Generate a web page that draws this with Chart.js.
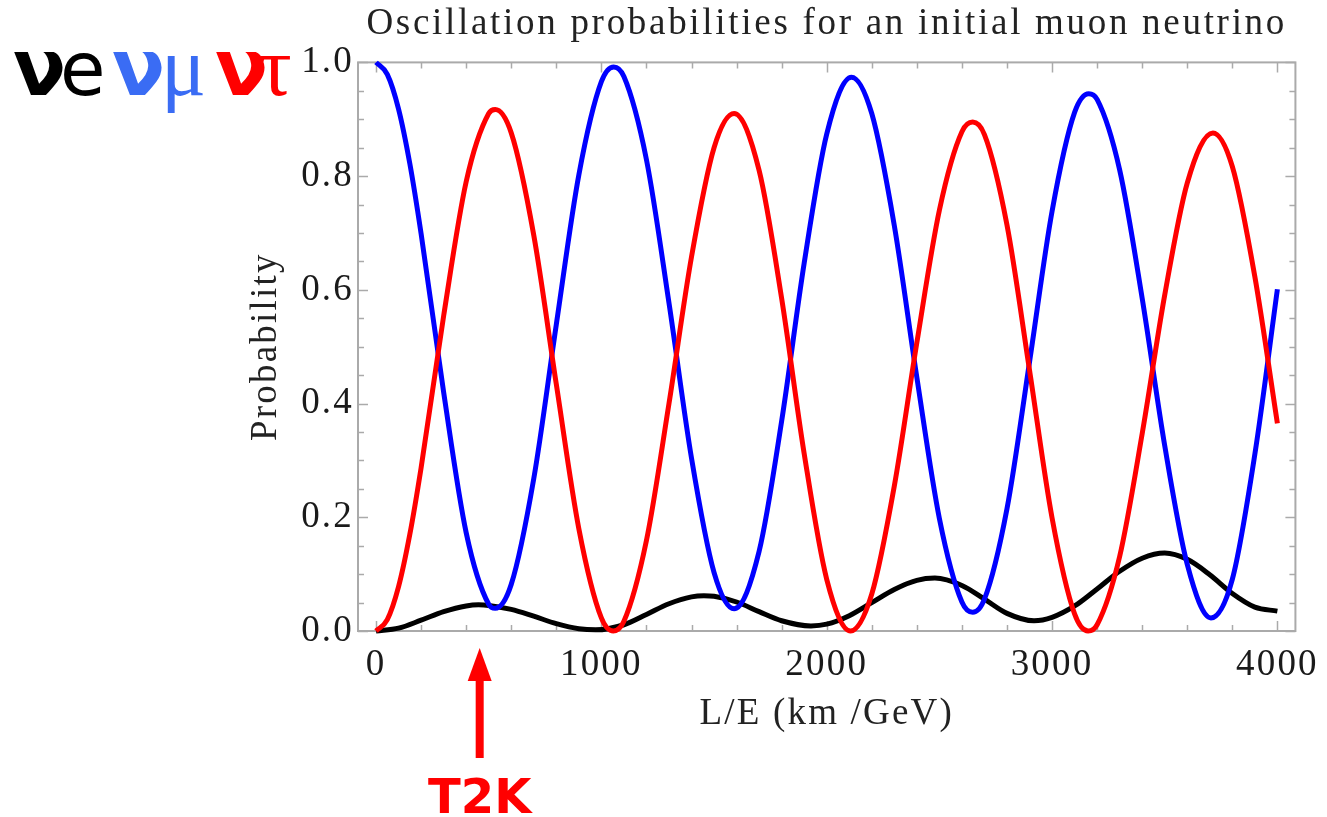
<!DOCTYPE html>
<html>
<head>
<meta charset="utf-8">
<script src="https://cdn.jsdelivr.net/npm/chart.js@4/dist/chart.umd.min.js"></script>
<style>
  html, body { margin: 0; padding: 0; background: #fff; }
  canvas { display: block; }
</style>
</head>
<body>
<canvas id="osc" width="1327" height="817"></canvas>
<script>
'use strict';

// L/E positions (km/GeV) and probabilities
const muonLE = [0, 50, 100, 150, 200, 300, 400, 500, 529, 600, 700, 800, 900, 1000, 1055, 1100, 1200, 1300, 1400, 1500,
  1589, 1700, 1800, 1900, 2000, 2110, 2200, 2300, 2400, 2500, 2600, 2648, 2700, 2800, 2900, 3000, 3100, 3163, 3200,
  3300, 3400, 3500, 3600, 3705, 3800, 3900, 4000];
const muonP = [1.000, 0.979, 0.918, 0.822, 0.699, 0.420, 0.173, 0.047, 0.040, 0.082, 0.268, 0.539, 0.802, 0.966, 0.992,
  0.975, 0.829, 0.577, 0.304, 0.103, 0.039, 0.140, 0.369, 0.647, 0.874, 0.974, 0.910, 0.713, 0.446, 0.198, 0.051,
  0.033, 0.056, 0.215, 0.473, 0.738, 0.912, 0.945, 0.935, 0.811, 0.585, 0.326, 0.117, 0.023, 0.091, 0.311, 0.601];

const tauLE = [0, 50, 100, 150, 200, 300, 400, 500, 529, 600, 700, 800, 900, 1000, 1053, 1100, 1200, 1300, 1400, 1500,
  1589, 1700, 1800, 1900, 2000, 2106, 2200, 2300, 2400, 2500, 2600, 2648, 2700, 2800, 2900, 3000, 3100, 3160, 3200,
  3300, 3400, 3500, 3600, 3714, 3800, 3900, 4000];
const tauP = [0.000, 0.020, 0.078, 0.170, 0.287, 0.554, 0.790, 0.910, 0.917, 0.876, 0.696, 0.434, 0.180, 0.023, 0.000,
  0.017, 0.159, 0.400, 0.658, 0.850, 0.910, 0.810, 0.585, 0.312, 0.091, 0.000, 0.065, 0.255, 0.507, 0.740, 0.878,
  0.895, 0.873, 0.714, 0.459, 0.199, 0.030, 0.000, 0.011, 0.131, 0.347, 0.591, 0.788, 0.876, 0.817, 0.623, 0.365];

const elecLE = [0, 100, 200, 300, 400, 455, 500, 600, 700, 800, 900, 975, 1100, 1200, 1300, 1400, 1455, 1500, 1600,
  1700, 1800, 1930, 2000, 2100, 2200, 2300, 2400, 2480, 2600, 2700, 2800, 2920, 3000, 3100, 3200, 3300, 3400, 3500,
  3600, 3700, 3800, 3900, 4000];
const elecP = [0.000, 0.005, 0.019, 0.034, 0.044, 0.046, 0.045, 0.038, 0.026, 0.013, 0.004, 0.002, 0.011, 0.029, 0.048,
  0.060, 0.062, 0.061, 0.051, 0.034, 0.018, 0.009, 0.012, 0.027, 0.050, 0.073, 0.089, 0.093, 0.080, 0.056, 0.031,
  0.018, 0.024, 0.044, 0.074, 0.105, 0.128, 0.137, 0.126, 0.099, 0.066, 0.042, 0.035];

const xTicks = [0, 1000, 2000, 3000, 4000];
const yTicks = [0, 0.2, 0.4, 0.6, 0.8, 1.0];
const t2kLE = 460;

function points(xs, ys) {
  return xs.map((v, i) => ({x: v, y: ys[i]}));
}

const serif = 'Liberation Serif';

// Mathematica-style frame with inward ticks, plus the annotations
const framePlugin = {
  id: 'frame',
  beforeDraw(chart) {
    // title is the only text drawn before the datasets
    chart.ctx.letterSpacing = '2.7px';
  },
  beforeDatasetsDraw(chart) {
    const {ctx, chartArea: a, scales: {x, y}} = chart;
    ctx.letterSpacing = '0px';
    ctx.save();
    ctx.strokeStyle = '#aaaaaa';
    ctx.lineWidth = 1.5;
    ctx.beginPath();
    for (let v = 0; v <= 4000; v += 200) {
      const px = Math.round(x.getPixelForValue(v)) + 0.5;
      const len = xTicks.includes(v) ? 10 : 6;
      ctx.moveTo(px, a.bottom); ctx.lineTo(px, a.bottom - len);
      ctx.moveTo(px, a.top); ctx.lineTo(px, a.top + len);
    }
    for (let k = 0; k <= 20; k++) {
      const py = Math.round(y.getPixelForValue(k * 0.05)) + 0.5;
      const len = k % 4 === 0 ? 10 : 6;
      ctx.moveTo(a.left, py); ctx.lineTo(a.left + len, py);
      ctx.moveTo(a.right, py); ctx.lineTo(a.right - len, py);
    }
    ctx.stroke();
    ctx.lineWidth = 2;
    ctx.strokeRect(a.left, a.top, a.right - a.left, a.bottom - a.top);
    ctx.restore();
  },
  afterDatasetsDraw(chart) {
    // axis labels and titles are drawn next (z = 1)
    chart.ctx.letterSpacing = '2.2px';
  },
  afterDraw(chart) {
    const {ctx, scales: {x}} = chart;
    ctx.letterSpacing = '0px';
    ctx.save();
    ctx.textBaseline = 'alphabetic';
    ctx.textAlign = 'left';
    const base = 95;
    const parts = [
      ['ν', 'bold 78px "DejaVu Sans"', '#000000', 13],
      ['e', '74px "DejaVu Sans"', '#000000', 60],
      ['ν', 'bold 78px "DejaVu Sans"', '#3a6cf4', 112],
      ['μ', '84px "Liberation Serif"', '#3a6cf4', 161],
      ['ν', 'bold 78px "DejaVu Sans"', '#ff0000', 215],
      ['τ', '84px "Liberation Serif"', '#ff0000', 258]
    ];
    parts.forEach(([t, f, c, px]) => {
      ctx.font = f;
      ctx.fillStyle = c;
      ctx.fillText(t, px, base);
    });

    // T2K arrow
    const ax = x.getPixelForValue(t2kLE);
    ctx.fillStyle = '#ff0000';
    ctx.fillRect(ax - 4, 678, 8, 80);
    ctx.beginPath();
    ctx.moveTo(ax, 648);
    ctx.lineTo(ax + 12, 681);
    ctx.lineTo(ax - 12, 681);
    ctx.closePath();
    ctx.fill();
    ctx.font = 'bold 48px "DejaVu Sans"';
    ctx.textAlign = 'center';
    ctx.fillText('T2K', ax, 813);
    ctx.restore();
  }
};

new Chart(document.getElementById('osc'), {
  type: 'line',
  data: {
    datasets: [{
      label: 'ντ',
      data: points(tauLE, tauP),
      borderColor: '#ff0000'
    }, {
      label: 'νμ',
      data: points(muonLE, muonP),
      borderColor: '#0000ff'
    }, {
      label: 'νe',
      data: points(elecLE, elecP),
      borderColor: '#000000'
    }]
  },
  options: {
    responsive: false,
    animation: false,
    clip: false,
    layout: {padding: {left: 244, right: 23, top: 0, bottom: 81}},
    elements: {
      point: {radius: 0},
      line: {borderWidth: 5, cubicInterpolationMode: 'monotone'}
    },
    plugins: {
      legend: {display: false},
      tooltip: {enabled: false},
      title: {
        display: true,
        text: 'Oscillation probabilities for an initial muon neutrino',
        fullSize: false,
        color: '#222222',
        font: {family: serif, size: 37, weight: 'normal'},
        padding: {top: 2, bottom: 16}
      }
    },
    scales: {
      x: {
        type: 'linear',
        min: -80,
        max: 4080,
        afterBuildTicks: (scale) => { scale.ticks = xTicks.map(v => ({value: v})); },
        afterFit: (scale) => { scale.height = 105; },
        grid: {display: false, drawTicks: false, z: 1},
        border: {display: false, z: 1},
        ticks: {
          z: 1,
          color: '#1a1a1a',
          padding: 12,
          maxRotation: 0,
          font: {family: serif, size: 37},
          callback: (v) => String(v)
        },
        title: {
          display: true,
          text: 'L/E (km /GeV)',
          color: '#222222',
          padding: 0,
          font: {family: serif, size: 37}
        }
      },
      y: {
        min: 0,
        max: 1,
        afterBuildTicks: (scale) => { scale.ticks = yTicks.map(v => ({value: v})); },
        afterFit: (scale) => { scale.width = 114; },
        grid: {display: false, drawTicks: false, z: 1},
        border: {display: false, z: 1},
        ticks: {
          z: 1,
          color: '#1a1a1a',
          padding: 4,
          font: {family: serif, size: 37},
          callback: (v) => v.toFixed(1)
        },
        title: {
          display: true,
          text: 'Probability',
          color: '#222222',
          padding: 0,
          font: {family: serif, size: 37}
        }
      }
    }
  },
  plugins: [framePlugin]
});
</script>
</body>
</html>
